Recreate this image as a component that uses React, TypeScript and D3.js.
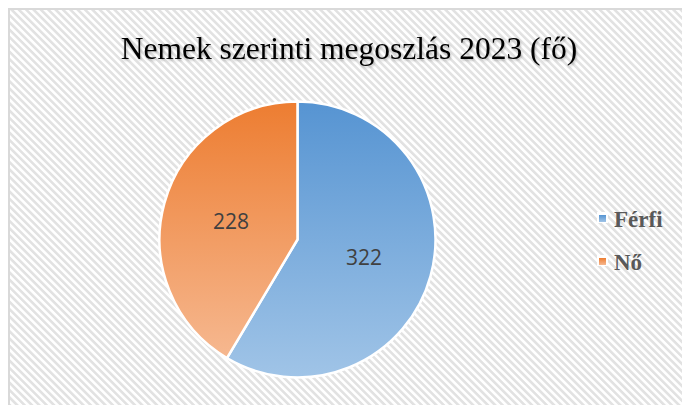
import React from "react";
import * as d3 from "d3";

const categories = ["Férfi", "Nő"];
const values = [322, 228];
const chartTitle = "Nemek szerinti megoszlás 2023 (fő)";

const palette = [
  { top: "#5694d2", bottom: "#a0c4e7" },
  { top: "#ed7d31", bottom: "#f6b890" },
];

const W = 682;
const H = 405;

const App = () => {
  const cx = 297.5;
  const cy = 239.5;
  const r = 138;

  const pie = d3
    .pie<number>()
    .sort(null)
    .value((d) => d);
  const arcs = pie(values);
  const arc = d3.arc<d3.PieArcDatum<number>>().innerRadius(0).outerRadius(r);
  const labelArc = d3
    .arc<d3.PieArcDatum<number>>()
    .innerRadius(r * 0.5)
    .outerRadius(r * 0.5);

  const legendY = d3.scalePoint<string>().domain(categories).range([219, 262]);

  return (
    <div style={{ position: "absolute", left: 0, top: 0 }}>
      <svg width={W} height={H} style={{ display: "block" }}>
        <defs>
          <pattern
            id="stripes"
            patternUnits="userSpaceOnUse"
            width={5.2}
            height={5.2}
            patternTransform="rotate(-45)"
          >
            <rect width={5.2} height={5.2} fill="#ffffff" />
            <rect width={2.6} height={5.2} fill="#e2e2e2" />
          </pattern>
          {palette.map((p, i) => (
            <linearGradient key={i} id={`grad${i}`} x1="0" y1="0" x2="0" y2="1">
              <stop offset="0" stopColor={p.top} />
              <stop offset="1" stopColor={p.bottom} />
            </linearGradient>
          ))}
          <filter id="shadow" x="-5%" y="-20%" width="110%" height="150%">
            <feDropShadow dx="1" dy="1.5" stdDeviation="1.2" floodColor="#000" floodOpacity="0.25" />
          </filter>
        </defs>

        <rect width={W} height={H} fill="#ffffff" />
        <rect x={9} y={9} width={720} height={440} fill="url(#stripes)" stroke="#d9d9d9" strokeWidth={2} />

        <text
          x={349}
          y={59}
          textAnchor="middle"
          fontFamily="'Liberation Serif', 'Times New Roman', serif"
          fontSize={31.5}
          fill="#000"
          filter="url(#shadow)"
        >
          {chartTitle}
        </text>

        <g transform={`translate(${cx},${cy})`}>
          {arcs.map((a, i) => (
            <path key={i} d={arc(a) ?? ""} fill={`url(#grad${i})`} stroke="#ffffff" strokeWidth={2.5} strokeLinejoin="round" />
          ))}
          {arcs.map((a, i) => {
            const [lx, ly] = labelArc.centroid(a);
            return (
              <text
                key={i}
                x={lx}
                y={ly}
                dy="0.35em"
                textAnchor="middle"
                fontFamily="'Open Sans', 'Liberation Sans', sans-serif"
                fontSize={21}
                fill="#404040"
              >
                {values[i]}
              </text>
            );
          })}
        </g>

        {categories.map((c, i) => {
          const y = legendY(c) ?? 0;
          return (
            <g key={c} transform={`translate(599,${y})`}>
              <rect x={-2} y={-7} width={11} height={11} fill="#ffffff" />
              <rect x={0} y={-4} width={7} height={7} fill={`url(#grad${i})`} />
              <text
                x={15}
                y={0}
                dy="0.35em"
                fontFamily="'Liberation Serif', 'Times New Roman', serif"
                fontWeight="bold"
                fontSize={23}
                fill="#595959"
              >
                {c}
              </text>
            </g>
          );
        })}
      </svg>
    </div>
  );
};

export default App;
